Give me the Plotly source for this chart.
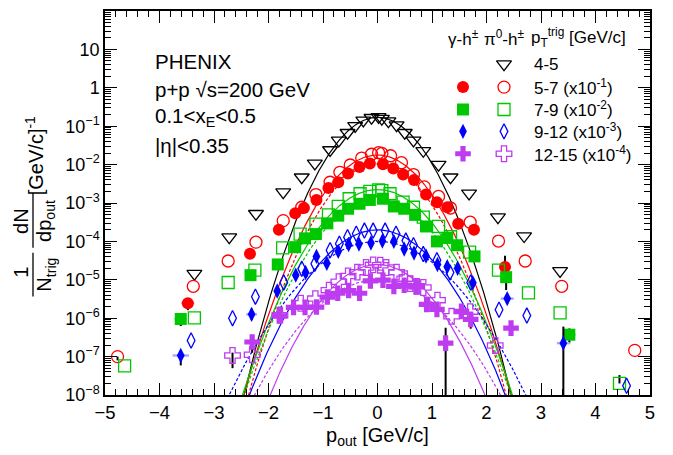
import numpy as np
import plotly.graph_objects as go

# ---------------- data (values as plotted, incl. scale factors) ----------------
# pi0-h  4-5 GeV/c (open triangles)
pi45_x = [-3.36, -2.72, -2.23, -1.73, -1.39, -1.15, -0.87, -0.71, -0.55, -0.41, -0.26, -0.11, 0.02,
          0.08, 0.20, 0.35, 0.50, 0.66, 0.84, 1.12, 1.34, 1.68, 2.21, 2.69, 3.35]
pi45_y = [1.45e-5, 1.29e-4, 5.25e-4, 1.91e-3, 4.68e-3, 1.07e-2, 2.40e-2, 4.27e-2, 6.76e-2, 1.02e-1,
          0.141, 0.166, 0.174, 0.158, 0.135, 0.107, 0.0676, 0.0427, 2.29e-2, 1.0e-2, 4.68e-3,
          1.78e-3, 4.27e-4, 1.38e-4, 1.70e-5]

# pi0-h 5-7 (x10^-1) open circles
pi57_x = [-4.77, -3.38, -2.74, -2.23, -1.73, -1.39, -1.13, -0.87, -0.69, -0.50, -0.29, -0.11, 0.02,
          0.08, 0.24, 0.44, 0.66, 0.86, 1.12, 1.34, 1.70, 2.22, 2.71, 3.38, 4.72]
pi57_y = [1.0e-7, 6.76e-6, 3.09e-5, 9.55e-5, 3.47e-4, 7.76e-4, 1.66e-3, 3.47e-3, 6.31e-3, 9.77e-3,
          1.48e-2, 1.86e-2, 2.04e-2, 1.95e-2, 1.70e-2, 1.12e-2, 5.50e-3, 2.63e-3, 1.48e-3, 7.41e-4,
          3.16e-4, 1.02e-4, 3.09e-5, 6.76e-6, 1.45e-7]
# gamma-h 5-7 (x10^-1) filled circles
g57_x = [-3.48, -2.34, -1.81, -1.51, -1.35, -1.12, -0.90, -0.72, -0.54, -0.33, -0.14, 0.10, 0.29,
         0.47, 0.67, 0.89, 1.09, 1.28, 1.48, 1.77, 2.34]
g57_y = [2.45e-6, 4.79e-5, 2.00e-4, 5.37e-4, 7.41e-4, 1.20e-3, 2.45e-3, 3.47e-3, 5.89e-3, 8.71e-3,
         1.07e-2, 1.02e-2, 7.94e-3, 5.50e-3, 3.98e-3, 1.66e-3, 1.05e-3, 7.76e-4, 2.88e-4, 2.00e-4,
         2.14e-5]

# pi0-h 7-9 (x10^-2) open squares
pi79_x = [-4.64, -3.36, -2.74, -2.25, -1.74, -1.42, -1.13, -0.90, -0.72, -0.52, -0.32, -0.14, 0.02,
          0.08, 0.23, 0.47, 0.66, 0.84, 1.12, 1.34, 1.69, 2.22, 2.77, 3.35, 4.44]
pi79_y = [5.75e-8, 1.02e-6, 8.51e-6, 1.78e-5, 6.76e-5, 1.55e-4, 2.82e-4, 4.90e-4, 8.13e-4, 1.29e-3,
          1.74e-3, 2.00e-3, 2.19e-3, 2.09e-3, 1.74e-3, 1.05e-3, 7.76e-4, 4.27e-4, 2.45e-4, 1.32e-4,
          5.25e-5, 1.78e-5, 4.57e-6, 1.38e-6, 2.00e-8]
# gamma-h 7-9 (x10^-2) filled squares
g79_x = [-3.61, -2.33, -1.83, -1.51, -1.33, -1.13, -0.92, -0.72, -0.54, -0.33, -0.14, 0.10, 0.30,
         0.49, 0.69, 0.89, 1.09, 1.28, 1.46, 1.78, 2.36, 3.52]
g79_y = [9.55e-7, 1.32e-5, 2.51e-5, 7.08e-5, 1.20e-4, 1.55e-4, 2.95e-4, 4.68e-4, 7.08e-4, 9.55e-4,
         1.20e-3, 1.29e-3, 8.13e-4, 7.08e-4, 4.90e-4, 2.45e-4, 1.00e-4, 1.23e-4, 7.94e-5, 4.07e-5,
         1.17e-5, 3.72e-7]

# pi0-h 9-12 (x10^-3) open diamonds
pi912_x = [-3.42, -2.66, -2.24, -1.72, -1.39, -1.15, -0.87, -0.70, -0.55, -0.39, -0.24, -0.08, 0.14,
           0.34, 0.52, 0.66, 0.84, 1.09, 1.33, 1.71, 2.23, 2.74, 4.57]
pi912_y = [2.63e-7, 1.0e-6, 3.63e-6, 8.51e-6, 1.95e-5, 2.63e-5, 5.89e-5, 8.71e-5, 1.29e-4, 1.58e-4,
           1.91e-4, 1.91e-4, 1.91e-4, 1.58e-4, 1.05e-4, 7.94e-5, 4.68e-5, 3.24e-5, 1.55e-5, 8.51e-6,
           1.66e-6, 1.17e-6, 1.74e-8]
# gamma-h 9-12 (x10^-3) filled diamonds
g912_x = [-3.61, -2.31, -1.84, -1.50, -1.32, -1.12, -0.93, -0.72, -0.53, -0.34, -0.12, 0.09, 0.30,
          0.49, 0.67, 0.89, 1.10, 1.28, 1.47, 1.75, 2.38, 3.41]
g912_y = [1.07e-7, 1.26e-6, 5.13e-6, 1.32e-5, 1.55e-5, 4.07e-5, 2.69e-5, 5.50e-5, 8.32e-5, 8.51e-5,
          9.12e-5, 1.02e-4, 1.00e-4, 6.31e-5, 5.01e-5, 4.17e-5, 2.51e-5, 2.19e-5, 2.00e-5, 8.32e-6,
          3.24e-6, 2.24e-7]

# pi0-h 12-15 (x10^-4) open crosses
pi1215_x = [-2.66, -2.30, -1.79, -1.41, -1.14, -0.89, -0.71, -0.54, -0.37, -0.21, -0.08, 0.05, 0.16,
            0.35, 0.50, 0.60, 0.72, 0.84, 1.10, 1.36, 1.70, 2.16]
pi1215_y = [1.07e-7, 1.12e-7, 1.20e-6, 2.45e-6, 3.24e-6, 5.37e-6, 8.91e-6, 1.26e-5, 1.58e-5, 2.09e-5,
            2.45e-5, 2.40e-5, 2.09e-5, 1.58e-5, 1.07e-5, 7.94e-6, 6.76e-6, 6.31e-6, 2.95e-6, 1.12e-6,
            1.48e-6, 1.95e-7]
# gamma-h 12-15 (x10^-4) filled crosses
g1215_x = [-2.30, -1.80, -1.54, -1.33, -1.12, -0.92, -0.73, -0.53, -0.33, -0.13, 0.10, 0.30, 0.49,
           0.71, 0.90, 1.09, 1.25, 1.54, 1.71, 2.45]
g1215_y = [2.40e-7, 1.15e-6, 1.91e-6, 1.91e-6, 1.95e-6, 3.55e-6, 4.47e-6, 5.25e-6, 4.47e-6, 9.33e-6,
           9.77e-6, 6.76e-6, 7.24e-6, 6.61e-6, 2.29e-6, 1.70e-6, 2.24e-7, 1.51e-6, 9.33e-7, 5.50e-7]

# vertical error bars (x -> (plus, minus)), horizontal error bars (x -> half width)
g57_yerr = {-3.48: (0.8e-6, 0.83e-6), 2.34: (2.1e-5, 1.3e-5)}
g57_xerr = {-3.48: 0.12}
g79_yerr = {-3.61: (0.3e-6, 0.33e-6), 2.36: (5e-6, 6.3e-6), 3.52: (1.7e-7, 1.5e-7)}
g79_xerr = {-3.61: 0.12, 3.52: 0.12}
g912_yerr = {-3.61: (4e-8, 4.8e-8), -2.31: (0.52e-6, 0.37e-6), 3.41: (3.8e-7, 2.2399e-7)}
g912_xerr = {-3.61: 0.15, -2.31: 0.1, 2.38: 0.12, 3.41: 0.12}
g1215_yerr = {-2.30: (0.5e-7, 1.14e-7), 1.25: (3.4e-7, 2.2399e-7), 1.71: (1e-7, 4e-7)}
pi1215_yerr = {-2.66: (0.2e-7, 0.57e-7)}
pi79_yerr = {4.44: (1.3e-8, 0.0)}
pi57_yerr = {-4.77: (0.0, 0.2e-7)}

# Gaussian fits: (peak value, sigma)
fit_pi45 = (0.170, 0.425)
fit_pi57 = (1.78e-2, 0.457)
fit_g57 = (1.05e-2, 0.45)
fit_pi79 = (2.24e-3, 0.50)
fit_g79 = (1.26e-3, 0.505)
fit_pi912 = (2.0e-4, 0.528)
fit_g912 = (1.0e-4, 0.634)
fit_pi1215 = (2.51e-5, 0.498)
fit_g1215 = (1.0e-5, 0.607)

# legend labels
leg_header = ["γ-h<sup>±</sup>", "π<sup>0</sup>-h<sup>±</sup>", "p<sub>T</sub><sup>trig</sup> [GeV/c]"]
leg_labels = ["4-5", "5-7 (x10<sup>-1</sup>)", "7-9 (x10<sup>-2</sup>)", "9-12 (x10<sup>-3</sup>)",
              "12-15 (x10<sup>-4</sup>)"]

x_ticks = [-5, -4, -3, -2, -1, 0, 1, 2, 3, 4, 5]
y_ticks = [1e-8, 1e-7, 1e-6, 1e-5, 1e-4, 1e-3, 1e-2, 1e-1, 1, 10]
y_ticktext = ["10<sup>−8</sup>", "10<sup>−7</sup>", "10<sup>−6</sup>", "10<sup>−5</sup>",
              "10<sup>−4</sup>", "10<sup>−3</sup>", "10<sup>−2</sup>", "10<sup>−1</sup>", "1", "10"]

# ---------------- styling ----------------
W, H = 673, 455          # window
OFF = 8                  # default page body margin
L, R, T, B = 105, 650, 9, 395   # plot area in window pixels
FONT = "Liberation Sans, Arial, Helvetica, sans-serif"
BLACK, RED, GREEN, BLUE, MAG = "#000000", "#FF0000", "#00C800", "#0000FF", "#BE3CF0"
LIGHT = {RED: "#FFAAAA", GREEN: "#AAEEAA", BLUE: "#AAAAFF", MAG: "#E0AAF8"}


def px(xp):
    return (xp - L) / (R - L)


def py(yp):
    return (B - yp) / (B - T)


fig = go.Figure()

# fit curves
xc = np.linspace(-3.5, 3.5, 701)
fits = [(fit_pi45, BLACK, "solid"), (fit_pi57, RED, "solid"), (fit_g57, RED, "dash"),
        (fit_pi79, GREEN, "solid"), (fit_g79, GREEN, "dash"), (fit_pi912, BLUE, "solid"),
        (fit_g912, BLUE, "dash"), (fit_pi1215, MAG, "solid"), (fit_g1215, MAG, "dash")]
for (amp, sig), col, dash in fits:
    yc = amp * np.exp(-xc ** 2 / (2 * sig ** 2))
    fig.add_trace(go.Scatter(x=xc, y=yc, mode="lines", showlegend=False, hoverinfo="skip",
                             line=dict(color=col, width=1.2,
                                       dash="3px,2px" if dash == "dash" else "solid")))


def add_series(xs, ys, symbol, color, size, yerr=None, xerr=None, lw=1.3):
    yerr = yerr or {}
    xerr = xerr or {}
    ep = [yerr.get(x, (0, 0))[0] for x in xs]
    em = [yerr.get(x, (0, 0))[1] for x in xs]
    ex = [xerr.get(x, 0) for x in xs]
    kw = {}
    if xerr:
        kw["error_x"] = dict(type="data", array=ex, color=LIGHT.get(color, "#cccccc"),
                             thickness=2.5, width=0)
    if yerr:
        kw["error_y"] = dict(type="data", symmetric=False, array=ep, arrayminus=em,
                             color="black", thickness=2, width=0)
    fig.add_trace(go.Scatter(x=xs, y=ys, mode="markers", showlegend=False,
                             marker=dict(symbol=symbol, size=size, color=color,
                                         line=dict(color=color, width=lw)), **kw))


add_series(pi45_x, pi45_y, "triangle-down-open", BLACK, 13)
add_series(pi57_x, pi57_y, "circle-open", RED, 12, yerr=pi57_yerr)
add_series(g57_x, g57_y, "circle", RED, 12, yerr=g57_yerr, xerr=g57_xerr, lw=0)
add_series(pi79_x, pi79_y, "square-open", GREEN, 12, yerr=pi79_yerr)
add_series(g79_x, g79_y, "square", GREEN, 12, yerr=g79_yerr, xerr=g79_xerr, lw=0)
add_series(pi912_x, pi912_y, "diamond-tall-open", BLUE, 11)
add_series(g912_x, g912_y, "diamond-tall", BLUE, 11, yerr=g912_yerr, xerr=g912_xerr, lw=0)
add_series(pi1215_x, pi1215_y, "cross-open", MAG, 13, yerr=pi1215_yerr)
add_series(g1215_x, g1215_y, "cross", MAG, 13, yerr=g1215_yerr, lw=0)

# legend symbols on an overlay axis (0..1 = plot area)
leg_rows = [62.5, 85.5, 108, 130, 152.5]
col_filled, col_open, col_text = 463, 504, 532
leg_filled = [None, ("circle", RED), ("square", GREEN), ("diamond-tall", BLUE), ("cross", MAG)]
leg_open = [("triangle-down-open", BLACK), ("circle-open", RED), ("square-open", GREEN),
            ("diamond-tall-open", BLUE), ("cross-open", MAG)]
leg_size = {"circle": 12, "square": 12, "diamond-tall": 11, "cross": 13, "triangle-down": 13}
for i, r in enumerate(leg_rows):
    for col_x, spec in ((col_filled, leg_filled[i]), (col_open, leg_open[i])):
        if spec is None:
            continue
        sym, c = spec
        fig.add_trace(go.Scatter(x=[px(col_x)], y=[py(r)], xaxis="x2", yaxis="y2", mode="markers",
                                 showlegend=False, hoverinfo="skip",
                                 marker=dict(symbol=sym, size=leg_size[sym.replace("-open", "")],
                                             color=c, line=dict(color=c, width=0 if "open" not in sym else 1.3))))

annots = []
tf = dict(family=FONT, size=17, color="black")
annots.append(dict(x=px(col_filled), y=py(36), text=leg_header[0], xanchor="center"))
annots.append(dict(x=px(col_open), y=py(36), text=leg_header[1], xanchor="center"))
annots.append(dict(x=px(col_text - 3), y=py(36), text=leg_header[2], xanchor="left"))
for r, lab in zip(leg_rows, leg_labels):
    annots.append(dict(x=px(col_text), y=py(r), text=lab, xanchor="left"))
for a in annots:
    a.update(xref="paper", yref="paper", yanchor="middle", showarrow=False, font=tf)

big = dict(family=FONT, size=20.5, color="black")
for txt, yy in [("PHENIX", 60), ("p+p √s=200 GeV", 88), ("0.1<x<sub>E</sub><0.5", 116),
                ("|η|<0.35", 144)]:
    annots.append(dict(x=px(153), y=py(yy), xref="paper", yref="paper", text=txt, xanchor="left",
                       yanchor="middle", showarrow=False, font=big))

# x axis title
annots.append(dict(x=0.5, y=py(437), xref="paper", yref="paper", text="p<sub>out</sub> [GeV/c]",
                   xanchor="center", yanchor="middle", showarrow=False, font=dict(family=FONT, size=20)))

# y axis title (rotated fractions)
yt = dict(family=FONT, size=20, color="black")
for txt, xx, yy in [("1", 21, 272), ("N<sub>trig</sub>", 46, 274), ("dN", 21, 220),
                    ("dp<sub>out</sub>", 46, 220), ("[GeV/c]<sup>-1</sup>", 34, 155)]:
    annots.append(dict(x=px(xx), y=py(yy), xref="paper", yref="paper", text=txt, textangle=-90,
                       xanchor="center", yanchor="middle", showarrow=False, font=yt))

shapes = [
    dict(type="line", xref="paper", yref="paper", x0=px(33), x1=px(33), y0=py(296), y1=py(252),
         line=dict(color="black", width=1.3)),
    dict(type="line", xref="paper", yref="paper", x0=px(33), x1=px(33), y0=py(247), y1=py(192),
         line=dict(color="black", width=1.3)),
]

y_minor = [m * 10.0 ** e for e in range(-8, 2) for m in range(2, 10)]

fig.update_layout(
    width=W - OFF, height=H - OFF, margin=dict(l=L - OFF, r=W - R, t=T - OFF, b=H - B),
    paper_bgcolor="white", plot_bgcolor="white", showlegend=False,
    font=dict(family=FONT, size=18, color="black"),
    annotations=annots, shapes=shapes,
    xaxis=dict(range=[-5, 5], tickmode="array", tickvals=x_ticks,
               ticktext=[("−" + str(abs(v))) if v < 0 else str(v) for v in x_ticks],
               ticks="inside", ticklen=12, tickwidth=1, tickcolor="black",
               minor=dict(ticks="inside", ticklen=6, tickmode="linear", tick0=0, dtick=0.2,
                          tickcolor="black", showgrid=False),
               showline=True, linecolor="black", linewidth=1.5, mirror="ticks",
               showgrid=False, zeroline=False, tickfont=dict(family=FONT, size=18.5)),
    yaxis=dict(type="log", range=[-8, 2], tickmode="array", tickvals=y_ticks, ticktext=y_ticktext,
               ticks="inside", ticklen=12, tickwidth=1, tickcolor="black",
               minor=dict(ticks="inside", ticklen=6, tickmode="array", tickvals=y_minor,
                          tickcolor="black", showgrid=False),
               showline=True, linecolor="black", linewidth=1.5, mirror="ticks",
               showgrid=False, zeroline=False, tickfont=dict(family=FONT, size=18)),
    xaxis2=dict(range=[0, 1], overlaying="x", visible=False, fixedrange=True),
    yaxis2=dict(range=[0, 1], overlaying="y", visible=False, fixedrange=True),
)

fig.write_html("out.html")
